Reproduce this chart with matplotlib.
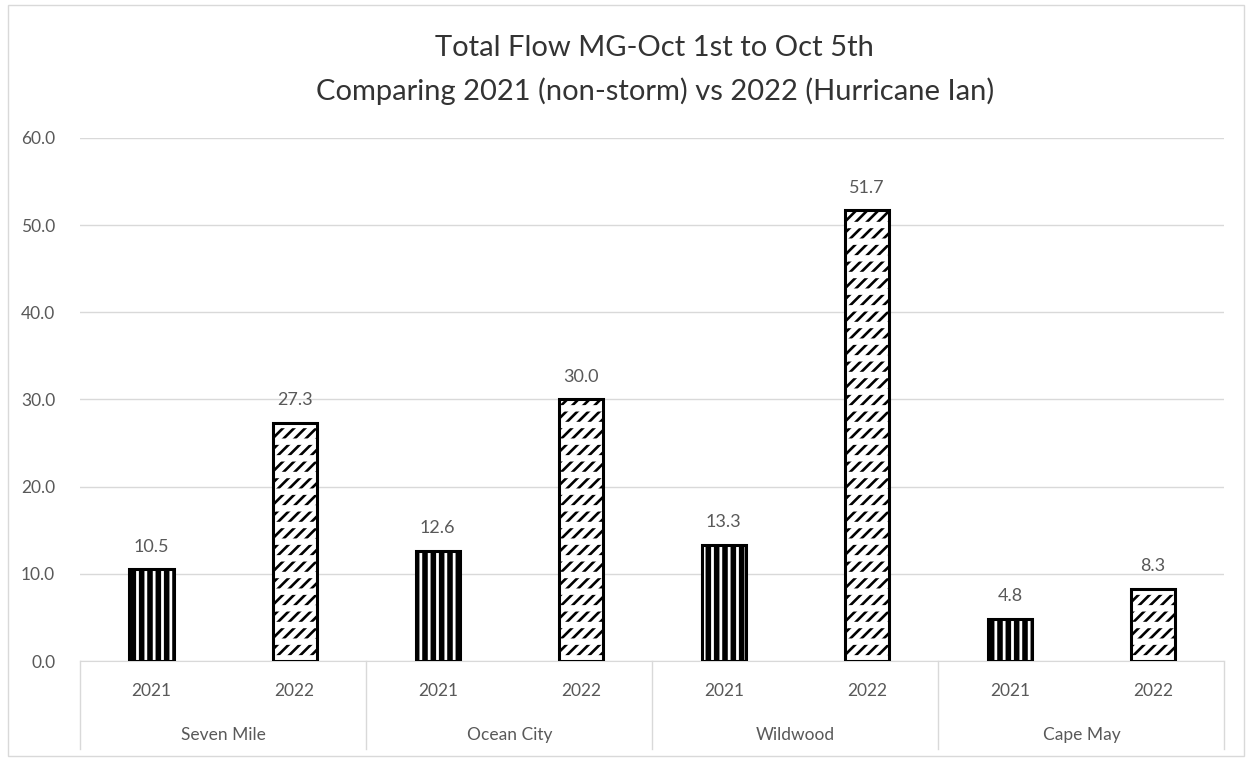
import numpy as np
import matplotlib
matplotlib.use("Agg")
import matplotlib.pyplot as plt
import matplotlib.transforms as mtransforms
from matplotlib.patches import Rectangle

# =========================
# DATA
# =========================
locations = ["Seven Mile", "Ocean City", "Wildwood", "Cape May"]
years = ["2021", "2022"]
flow_2021 = [10.5, 12.6, 13.3, 4.8]
flow_2022 = [27.3, 30.0, 51.7, 8.3]

TITLE = "Total Flow MG-Oct 1st to Oct 5th\nComparing 2021 (non-storm) vs 2022 (Hurricane Ian)"
GRAY_TXT = "#595959"
GRID = "#d9d9d9"

plt.rcParams["font.family"] = ["Lato", "DejaVu Sans"]

fig = plt.figure(figsize=(12.52, 7.61), dpi=100)
ax = fig.add_axes([0.064, 0.1314, 0.914, 0.6873])

# interleave the two years per location
values = []
for a, b in zip(flow_2021, flow_2022):
    values += [a, b]
x = np.arange(len(values))
w = 0.31

# =========================
# BARS
# =========================
for i, v in enumerate(values):
    if i % 2 == 0:
        # dense black bar with thin white vertical gaps
        with plt.rc_context({"hatch.linewidth": 2.0}):
            ax.bar(x[i], v, w, color="black", edgecolor="white", hatch="||", linewidth=0, zorder=3)
    else:
        # rows of short diagonal dashes: diagonal hatch cut by thick white stripes
        with plt.rc_context({"hatch.linewidth": 1.9}):
            ax.bar(x[i], v, w, color="white", edgecolor="black", hatch="///", linewidth=0, zorder=3)
        with plt.rc_context({"hatch.linewidth": 4.6}):
            ax.bar(x[i], v, w, color="none", edgecolor="white", hatch="-", linewidth=0, zorder=4)
    ax.bar(x[i], v, w, color="none", edgecolor="black", linewidth=2.2, zorder=5)
    ax.text(x[i], v + 1.7, f"{v:.1f}", ha="center", va="bottom", fontsize=13, color=GRAY_TXT)

# =========================
# AXES
# =========================
ax.set_xlim(-0.5, len(values) - 0.5)
ax.set_ylim(0, 60)
ax.set_yticks(np.arange(0, 61, 10))
ax.set_yticklabels([f"{t:.1f}" for t in np.arange(0, 61, 10)], fontsize=12.5, color=GRAY_TXT)
ax.yaxis.grid(True, color=GRID, linewidth=1)
ax.set_axisbelow(True)
for s in ["top", "right", "left"]:
    ax.spines[s].set_visible(False)
ax.spines["bottom"].set_color(GRID)
ax.tick_params(axis="y", length=0, pad=18)
ax.tick_params(axis="x", length=0, pad=16)

ax.set_xticks(x)
ax.set_xticklabels(years * len(locations), fontsize=12.5, color=GRAY_TXT)

trans = mtransforms.blended_transform_factory(ax.transData, ax.transAxes)
for k, loc in enumerate(locations):
    ax.text(2 * k + 0.5, -0.142, loc, transform=trans, ha="center", va="center",
            fontsize=12.5, color=GRAY_TXT)
for b in np.arange(-0.5, len(values), 2):
    ax.plot([b, b], [0, -0.168], transform=trans, color=GRID, linewidth=1, clip_on=False)

fig.text(0.523, 0.908, TITLE, ha="center", va="center", fontsize=21,
         color="#333333", linespacing=1.7)

# chart border
fig.patches.append(Rectangle((0.006, 0.006), 0.988, 0.988, transform=fig.transFigure,
                             fill=False, edgecolor=GRID, linewidth=1))

fig.savefig("out.png", dpi=100)
